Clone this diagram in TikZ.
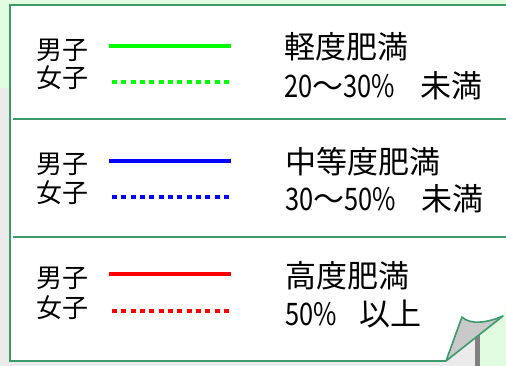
\documentclass[tikz,border=0pt]{standalone}
\usepackage{fontspec}
\usepackage{graphicx}
\setmainfont{Noto Sans CJK JP}
\definecolor{bggreen}{HTML}{E1FBE1}
\definecolor{bggray}{HTML}{EBEBEB}
\definecolor{bar}{HTML}{808080}
\definecolor{frame}{HTML}{3C9A6B}
\definecolor{fold}{HTML}{C9C9C9}
\newcommand\narrowdig[1]{\scalebox{0.82}[1]{#1}}
\tikzset{
  lbl/.style={anchor=west, inner sep=0pt, font=\fontsize{26}{28}\selectfont},
  rtxt/.style={anchor=west, inner sep=0pt, font=\fontsize{31}{32}\selectfont},
  solidln/.style={line width=4pt},
  dotln/.style={line width=4pt, dash pattern=on 5pt off 4.33pt},
  sep/.style={draw=frame, line width=1.8pt},
}
\begin{document}
\begin{tikzpicture}[x=1pt,y=-1pt]
\useasboundingbox (0,0) rectangle (506,366);
% background
\fill[bggreen] (0,0) rectangle (506,366);
\fill[bggray] (0,88) rectangle (475,366);
\fill[bar] (475,88) rectangle (480,366);
% box
\fill[white] (9.5,5.5) -- (512,5.5) -- (512,306) -- (446,361) -- (9.5,361) -- cycle;
\draw[frame, line width=2pt] (512,5.5) -- (9.5,5.5) -- (9.5,361) -- (446,361);
% separators
\coordinate (s1a) at (13,119); \coordinate (s1b) at (512,119);
\coordinate (s2a) at (13,237); \coordinate (s2b) at (512,237);
\draw[sep] (s1a) -- (s1b);
\draw[sep] (s2a) -- (s2b);
% fold
\coordinate (f1) at (446,361);
\coordinate (f2) at (462,317);
\coordinate (f3) at (503,316);
\filldraw[fill=fold, draw=frame, line width=1.6pt, line join=round]
  (f1) -- (f2) .. controls (470,325) and (487,323) .. (f3) -- cycle;
% section 1
\node[lbl] (m1) at (36,50) {男子};
\node[lbl] (w1) at (36,78) {女子};
\coordinate (a1) at (109,46); \coordinate (b1) at (231,46);
\coordinate (c1) at (112,82); \coordinate (d1) at (233,82);
\draw[solidln, green] (a1) -- (b1);
\draw[dotln, green] (c1) -- (d1);
\node[rtxt] (t1) at (284,46.5) {軽度肥満};
\node[rtxt] (u1) at (284,86) {\narrowdig{20}～\narrowdig{30\%}\hspace{25pt}未満};
% section 2
\node[lbl] (m2) at (36,164.5) {男子};
\node[lbl] (w2) at (36,193) {女子};
\coordinate (a2) at (109,161); \coordinate (b2) at (231,161);
\coordinate (c2) at (112,197); \coordinate (d2) at (233,197);
\draw[solidln, blue] (a2) -- (b2);
\draw[dotln, blue] (c2) -- (d2);
\node[rtxt] (t2) at (285,162) {中等度肥満};
\node[rtxt] (u2) at (285,198.5) {\narrowdig{30}～\narrowdig{50\%}\hspace{25pt}未満};
% section 3
\node[lbl] (m3) at (36,278.5) {男子};
\node[lbl] (w3) at (36,307.5) {女子};
\coordinate (a3) at (109,274); \coordinate (b3) at (231,274);
\coordinate (c3) at (112,311); \coordinate (d3) at (233,311);
\draw[solidln, red] (a3) -- (b3);
\draw[dotln, red] (c3) -- (d3);
\node[rtxt] (t3) at (285,276) {高度肥満};
\node[rtxt] (u3) at (285,314) {\narrowdig{50\%}\hspace{23pt}以上};
\end{tikzpicture}
\end{document}
